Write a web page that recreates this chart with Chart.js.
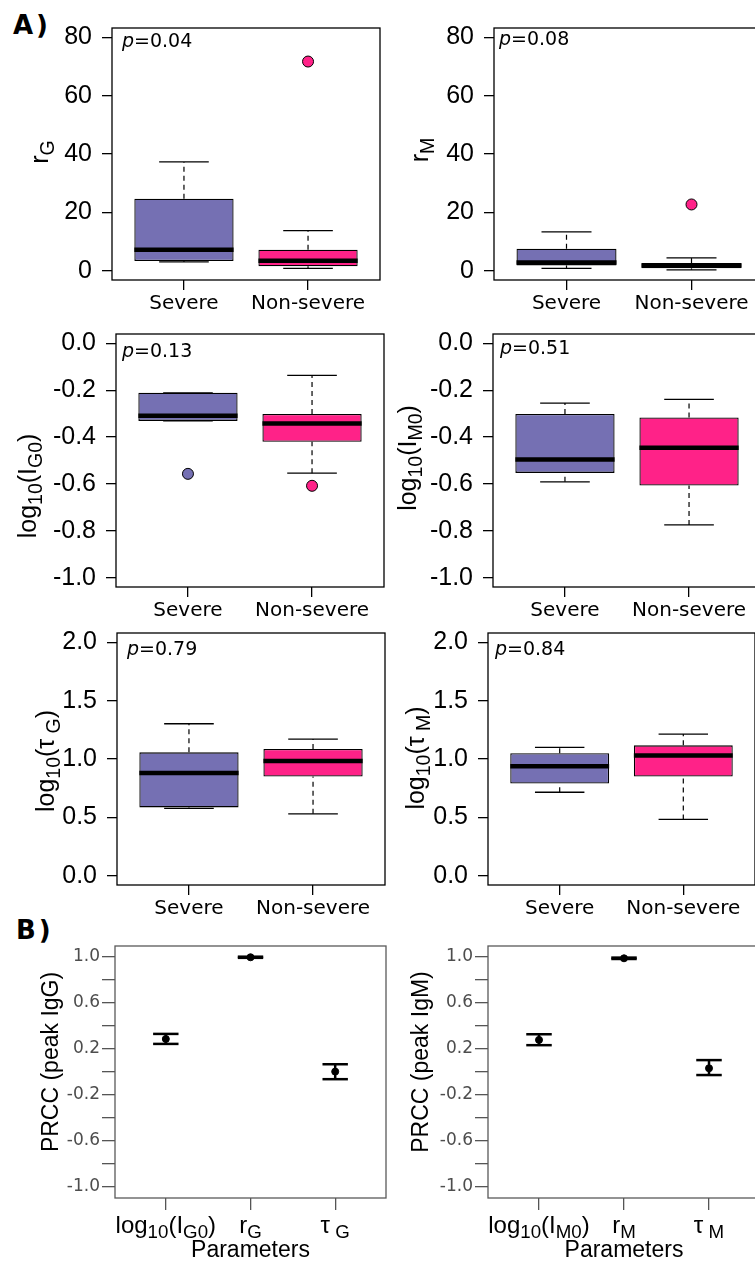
<!DOCTYPE html>
<html>
<head>
<meta charset="utf-8">
<script src="https://cdn.jsdelivr.net/npm/chart.js@4.4.1/dist/chart.umd.min.js"></script>
<style>
html, body { margin: 0; padding: 0; background: #fff; width: 755px; height: 1266px; overflow: hidden; position: relative; }
canvas { position: absolute; }
.tag { position: absolute; font: bold 26px "DejaVu Sans", Verdana, sans-serif; line-height: 26px; letter-spacing: 3px; }
</style>
</head>
<body>
<div class="tag" style="left:13px; top:12px">A)</div>
<div class="tag" style="left:16px; top:917px">B)</div>
<script>
// groups compared in panel A
const groups = ['Severe', 'Non-severe'];
const groupColors = ['#7570B3', '#FF2288'];

// box stats per group: [lower whisker, Q1, median, Q3, upper whisker]
const rG = [[3.0, 3.3, 7.2, 24.7, 37.3], [0.8, 1.5, 3.4, 7.2, 13.7]];
const rGOut = [[], [71.7]];
const rM = [[0.8, 1.8, 2.8, 7.5, 13.3], [0.3, 0.8, 1.8, 2.6, 4.4]];
const rMOut = [[], [22.7]];
const IG0 = [[-0.331, -0.331, -0.309, -0.211, -0.211], [-0.554, -0.42, -0.342, -0.301, -0.137]];
const IG0Out = [[-0.557], [-0.608]];
const IM0 = [[-0.591, -0.553, -0.496, -0.301, -0.255], [-0.775, -0.607, -0.446, -0.316, -0.239]];
const IM0Out = [[], []];
const tauG = [[0.576, 0.585, 0.880, 1.057, 1.302], [0.530, 0.849, 0.983, 1.086, 1.171]];
const tauGOut = [[], []];
const tauM = [[0.715, 0.790, 0.938, 1.049, 1.100], [0.482, 0.849, 1.029, 1.117, 1.214]];
const tauMOut = [[], []];
const pValues = ['0.04', '0.08', '0.13', '0.51', '0.79', '0.84'];

const rTicks = [0, 20, 40, 60, 80];
const rTickLabels = ['0', '20', '40', '60', '80'];
const logTicks = [-1.0, -0.8, -0.6, -0.4, -0.2, 0.0];
const logTickLabels = ['-1.0', '-0.8', '-0.6', '-0.4', '-0.2', '0.0'];
const tauTicks = [0, 0.5, 1.0, 1.5, 2.0];
const tauTickLabels = ['0.0', '0.5', '1.0', '1.5', '2.0'];

// panel B: PRCC with confidence bars
const paramsG = ['log_{10}(I_{G0})', 'r_{G}', '\u03c4_{ G}'];
const paramsM = ['log_{10}(I_{M0})', 'r_{M}', '\u03c4_{ M}'];
const prccG = [0.284, 0.995, 0.000];
const prccGLow = [0.241, 0.990, -0.066];
const prccGHigh = [0.328, 1.000, 0.064];
const prccM = [0.276, 0.986, 0.029];
const prccMLow = [0.230, 0.980, -0.030];
const prccMHigh = [0.325, 0.992, 0.100];
const prccTicks = [-1.0, -0.8, -0.6, -0.4, -0.2, 0.0, 0.2, 0.4, 0.6, 0.8, 1.0];
const prccTickLabels = ['-1.0', '', '-0.6', '', '-0.2', '', '0.2', '', '0.6', '', '1.0'];

const ARIAL = '"Liberation Sans", Arial, sans-serif';
const VERD = '"DejaVu Sans", Verdana, sans-serif';

function richParts(str) {
    const parts = [];
    str.replace(/_\{([^}]*)\}|([^_]+)/g, (m, s, n) => {
        parts.push(s !== undefined ? { t: s, sub: true } : { t: n, sub: false });
        return m;
    });
    return parts;
}

// text with _{...} subscripts, y is the baseline
function drawRich(ctx, str, x, y, size, family) {
    const parts = richParts(str);
    let w = 0;
    parts.forEach(p => {
        ctx.font = (p.sub ? size * 0.78 : size) + 'px ' + family;
        p.w = ctx.measureText(p.t).width;
        w += p.w;
    });
    let cx = x - w / 2;
    ctx.textAlign = 'left';
    ctx.textBaseline = 'alphabetic';
    parts.forEach(p => {
        ctx.font = (p.sub ? size * 0.78 : size) + 'px ' + family;
        ctx.fillText(p.t, cx, y + (p.sub ? size * 0.22 : 0));
        cx += p.w;
    });
}

const deco = {
    id: 'deco',
    afterDraw(chart, args, o) {
        const ctx = chart.ctx, a = chart.chartArea;
        ctx.save();
        ctx.strokeStyle = o.frame;
        ctx.lineWidth = 1.3;
        ctx.strokeRect(a.left, a.top, a.right - a.left, a.bottom - a.top);
        ctx.fillStyle = '#000';
        if (o.p) {
            ctx.textBaseline = 'middle';
            ctx.textAlign = 'left';
            ctx.font = 'italic 19px ' + VERD;
            ctx.fillText('p', o.pAt[0], o.pAt[1]);
            const pw = ctx.measureText('p').width;
            ctx.font = '19px ' + VERD;
            ctx.fillText('=' + o.p, o.pAt[0] + pw, o.pAt[1]);
        }
        if (o.xLabels) {
            const xs = chart.scales.x;
            o.xLabels.forEach((lab, i) => {
                drawRich(ctx, lab, xs.getPixelForValue(i + 1), a.bottom + 35, 24, ARIAL);
            });
            drawRich(ctx, 'Parameters', (a.left + a.right) / 2, a.bottom + 59, 23, ARIAL);
        }
        ctx.translate(o.titleAt[0], o.titleAt[1]);
        ctx.rotate(-Math.PI / 2);
        drawRich(ctx, o.title, 0, 0, o.titleSize, ARIAL);
        ctx.restore();
    }
};

function makeCanvas(c) {
    const el = document.createElement('canvas');
    el.width = c.w;
    el.height = c.h;
    el.style.left = c.x + 'px';
    el.style.top = c.y + 'px';
    el.style.width = c.w + 'px';
    el.style.height = c.h + 'px';
    document.body.appendChild(el);
    return el;
}

function seg(x1, y1, x2, y2, width, dash, order) {
    return {
        type: 'line',
        data: [{ x: x1, y: y1 }, { x: x2, y: y2 }],
        borderColor: '#000',
        borderWidth: width,
        borderDash: dash,
        pointRadius: 0,
        fill: false,
        order: order
    };
}

function boxDatasets(stats, out) {
    const half = 0.4, cap = 0.2;
    const sets = [{
        type: 'bar',
        data: stats.map((s, i) => ({ x: i + 1, y: [s[1], s[3]] })),
        backgroundColor: groupColors,
        borderColor: '#000',
        borderWidth: 1.3,
        borderSkipped: false,
        barPercentage: 0.8,
        categoryPercentage: 1,
        order: 3
    }];
    stats.forEach((s, i) => {
        const c = i + 1;
        sets.push(seg(c, s[3], c, s[4], 1.2, [5, 4], 4));
        sets.push(seg(c, s[0], c, s[1], 1.2, [5, 4], 4));
        sets.push(seg(c - cap, s[4], c + cap, s[4], 1.3, [], 2));
        sets.push(seg(c - cap, s[0], c + cap, s[0], 1.3, [], 2));
        sets.push(seg(c - half, s[2], c + half, s[2], 4.5, [], 1));
    });
    const pts = [], cols = [];
    out.forEach((o, i) => o.forEach(v => { pts.push({ x: i + 1, y: v }); cols.push(groupColors[i]); }));
    sets.push({
        type: 'scatter',
        data: pts,
        pointBackgroundColor: cols,
        pointBorderColor: '#000',
        pointBorderWidth: 1,
        pointRadius: 5.5,
        order: 0
    });
    return sets;
}

function prccDatasets(mid, low, high) {
    const cap = 0.15;
    const sets = [];
    mid.forEach((m, i) => {
        const c = i + 1;
        sets.push(seg(c, low[i], c, high[i], 2.5, [], 2));
        sets.push(seg(c - cap, low[i], c + cap, low[i], 2.5, [], 2));
        sets.push(seg(c - cap, high[i], c + cap, high[i], 2.5, [], 2));
    });
    sets.push({
        type: 'scatter',
        data: mid.map((m, i) => ({ x: i + 1, y: m })),
        pointBackgroundColor: '#000',
        pointBorderColor: '#000',
        pointRadius: 3.5,
        order: 0
    });
    return sets;
}

function drawPanel(p) {
    const cv = makeCanvas(p.canvas);
    const C = p.canvas, A = p.area;
    const tickCol = p.prcc ? '#555' : '#000';
    new Chart(cv, {
        type: 'bar',
        data: { datasets: p.datasets },
        options: {
            responsive: false,
            animation: false,
            events: [],
            layout: { padding: { top: A.t - C.y, right: C.x + C.w - A.r, left: 0, bottom: 0 } },
            plugins: {
                legend: { display: false },
                tooltip: { enabled: false },
                deco: {
                    frame: p.prcc ? '#595959' : '#000',
                    p: p.p,
                    pAt: p.pAt ? [p.pAt[0] - C.x, p.pAt[1] - C.y] : null,
                    title: p.title,
                    titleSize: p.prcc ? 23 : 25,
                    titleAt: [p.titleAt[0] - C.x, p.titleAt[1] - C.y],
                    xLabels: p.xLabels
                }
            },
            scales: {
                x: {
                    type: 'linear',
                    min: p.xMin,
                    max: p.xMax,
                    offset: false,
                    afterBuildTicks: s => { s.ticks = p.xTicks.map(v => ({ value: v })); },
                    afterFit: s => { s.height = C.y + C.h - A.b; s.paddingLeft = 0; s.paddingRight = 0; },
                    border: { display: false },
                    grid: { drawOnChartArea: false, drawTicks: true, tickLength: p.prcc ? 12 : 10, color: tickCol, lineWidth: 1.3, offset: false },
                    ticks: {
                        autoSkip: false,
                        maxRotation: 0,
                        padding: 2,
                        color: '#000',
                        font: { family: VERD, size: 20 },
                        callback: (v, i) => p.xLabels ? '' : groups[i]
                    }
                },
                y: {
                    type: 'linear',
                    min: p.yMin,
                    max: p.yMax,
                    afterBuildTicks: s => { s.ticks = p.yTicks.map(v => ({ value: v })); },
                    afterFit: s => { s.width = A.l - C.x; s.paddingTop = 0; s.paddingBottom = 0; },
                    border: { display: false },
                    grid: { drawOnChartArea: false, drawTicks: true, tickLength: p.prcc ? 13 : 10, color: tickCol, lineWidth: 1.3 },
                    ticks: {
                        autoSkip: false,
                        padding: p.prcc ? 2 : 10,
                        color: p.prcc ? '#4d4d4d' : '#000',
                        font: p.prcc ? { family: VERD, size: 17 } : { family: ARIAL, size: 25 },
                        callback: (v, i) => p.yLabels[i]
                    }
                }
            }
        },
        plugins: [deco]
    });
}

const boxXTicks = [1, 2];
const panels = [
    { stats: rG, out: rGOut, yTicks: rTicks, yLabels: rTickLabels, yMin: -3.2, yMax: 83.2, title: 'r_{G}', p: pValues[0],
      canvas: { x: 0, y: 0, w: 392, h: 318 }, area: { l: 112, t: 28, r: 380, b: 280 }, titleAt: [48, 152], pAt: [122, 42] },
    { stats: rM, out: rMOut, yTicks: rTicks, yLabels: rTickLabels, yMin: -3.2, yMax: 83.2, title: 'r_{M}', p: pValues[1],
      canvas: { x: 380, y: 0, w: 392, h: 318 }, area: { l: 494, t: 28, r: 764, b: 280 }, titleAt: [428, 150], pAt: [499, 40] },
    { stats: IG0, out: IG0Out, yTicks: logTicks, yLabels: logTickLabels, yMin: -1.04, yMax: 0.04, title: 'log_{10}(I_{G0})', p: pValues[2],
      canvas: { x: 0, y: 318, w: 392, h: 307 }, area: { l: 116, t: 334, r: 384, b: 587 }, titleAt: [36, 486], pAt: [122, 352] },
    { stats: IM0, out: IM0Out, yTicks: logTicks, yLabels: logTickLabels, yMin: -1.04, yMax: 0.04, title: 'log_{10}(I_{M0})', p: pValues[3],
      canvas: { x: 380, y: 318, w: 392, h: 307 }, area: { l: 493, t: 334, r: 761, b: 587 }, titleAt: [416, 458], pAt: [500, 349] },
    { stats: tauG, out: tauGOut, yTicks: tauTicks, yLabels: tauTickLabels, yMin: -0.08, yMax: 2.08, title: 'log_{10}(\u03c4_{ G})', p: pValues[4],
      canvas: { x: 0, y: 625, w: 392, h: 300 }, area: { l: 117, t: 633, r: 385, b: 885 }, titleAt: [54, 761], pAt: [127, 650] },
    { stats: tauM, out: tauMOut, yTicks: tauTicks, yLabels: tauTickLabels, yMin: -0.08, yMax: 2.08, title: 'log_{10}(\u03c4_{ M})', p: pValues[5],
      canvas: { x: 380, y: 625, w: 392, h: 300 }, area: { l: 488, t: 633, r: 755, b: 885 }, titleAt: [424, 758], pAt: [495, 650] }
];

panels.forEach(p => {
    drawPanel(Object.assign({ datasets: boxDatasets(p.stats, p.out), xMin: 0.42, xMax: 2.58, xTicks: boxXTicks }, p));
});

const prccPanels = [
    { mid: prccG, low: prccGLow, high: prccGHigh, xLabels: paramsG, title: 'PRCC (peak IgG)',
      canvas: { x: 0, y: 925, w: 392, h: 341 }, area: { l: 115, t: 946, r: 386, b: 1198 }, titleAt: [58, 1062] },
    { mid: prccM, low: prccMLow, high: prccMHigh, xLabels: paramsM, title: 'PRCC (peak IgM)',
      canvas: { x: 380, y: 925, w: 392, h: 341 }, area: { l: 488, t: 946, r: 760, b: 1198 }, titleAt: [428, 1062] }
];

prccPanels.forEach(p => {
    drawPanel(Object.assign({
        prcc: true, datasets: prccDatasets(p.mid, p.low, p.high),
        xMin: 0.4, xMax: 3.6, xTicks: [1, 2, 3],
        yTicks: prccTicks, yLabels: prccTickLabels, yMin: -1.1, yMax: 1.093
    }, p));
});
</script>
</body>
</html>
